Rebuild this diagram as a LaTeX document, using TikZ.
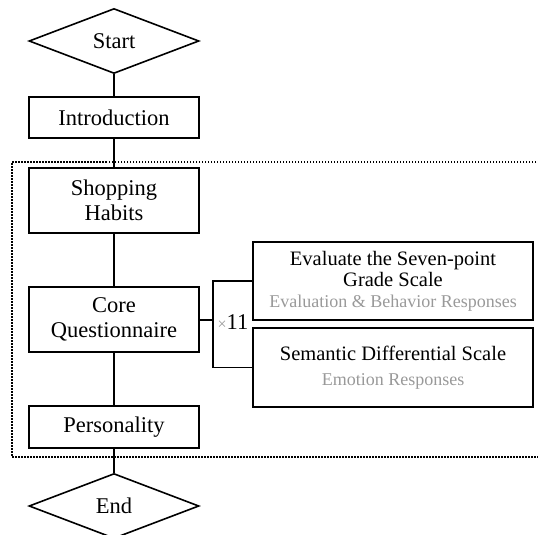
\documentclass[tikz,border=0pt]{standalone}
\usepackage{fontspec}
\setmainfont{Liberation Serif}
\usetikzlibrary{shapes.geometric}
\definecolor{subgray}{HTML}{999999}
\begin{document}
\begin{tikzpicture}[x=1pt,y=-1pt,
  every node/.style={font=\fontsize{22.5}{26}\selectfont, inner sep=0pt},
  procbox/.style={draw, line width=1.6pt, minimum width=170pt, align=center},
  scalebox/.style={procbox, minimum width=280pt, font=\fontsize{20.5}{24}\selectfont},
  decision/.style={draw, diamond, line width=1.6pt, minimum width=170pt, minimum height=65pt, aspect=2.6},
  link/.style={line width=1.6pt},
  subtext/.style={text=subgray, font=\fontsize{17.5}{21}\selectfont}]
\useasboundingbox (0,0) rectangle (538,535);
\draw[line width=1.3pt, dash pattern=on 1.5pt off 1.5pt] (548,162) -- (12,162) -- (12,457) -- (548,457);
\node[decision] (start) at (114,41) {Start};
\node[procbox, minimum height=41pt] (intro) at (114,117.5) {Introduction};
\node[procbox, minimum height=65pt] (shop) at (114,200.5) {Shopping\\[-1pt]Habits};
\node[procbox, minimum height=65pt] (core) at (114,319.5) {Core\\[-1pt]Questionnaire};
\node[procbox, minimum height=42pt] (pers) at (114,427) {Personality};
\node[decision] (end) at (114,506) {End};
\node[scalebox, minimum height=78pt] (eval) at (393,281) {Evaluate the Seven-point\\[-3pt]Grade Scale\\[-3pt]{\color{subgray}\fontsize{18}{21}\selectfont Evaluation \& Behavior Responses}};
\node[scalebox, minimum height=79pt] (sem) at (393,367.5) {Semantic Differential Scale\\[1pt]{\color{subgray}\fontsize{18}{21}\selectfont Emotion Responses}};
\coordinate (br) at (213,320);
\node (times) at (233,322) {{\color{subgray}\fontsize{16}{18}\selectfont ×}11};
\draw[link] (start.south) -- (intro.north);
\draw[link] (intro.south) -- (shop.north);
\draw[link] (shop.south) -- (core.north);
\draw[link] (core.south) -- (pers.north);
\draw[link] (pers.south) -- (end.north);
\draw[link] (core.east |- br) -- (br);
\draw[link] (eval.west) -| (br) |- (sem.west);
\end{tikzpicture}
\end{document}
